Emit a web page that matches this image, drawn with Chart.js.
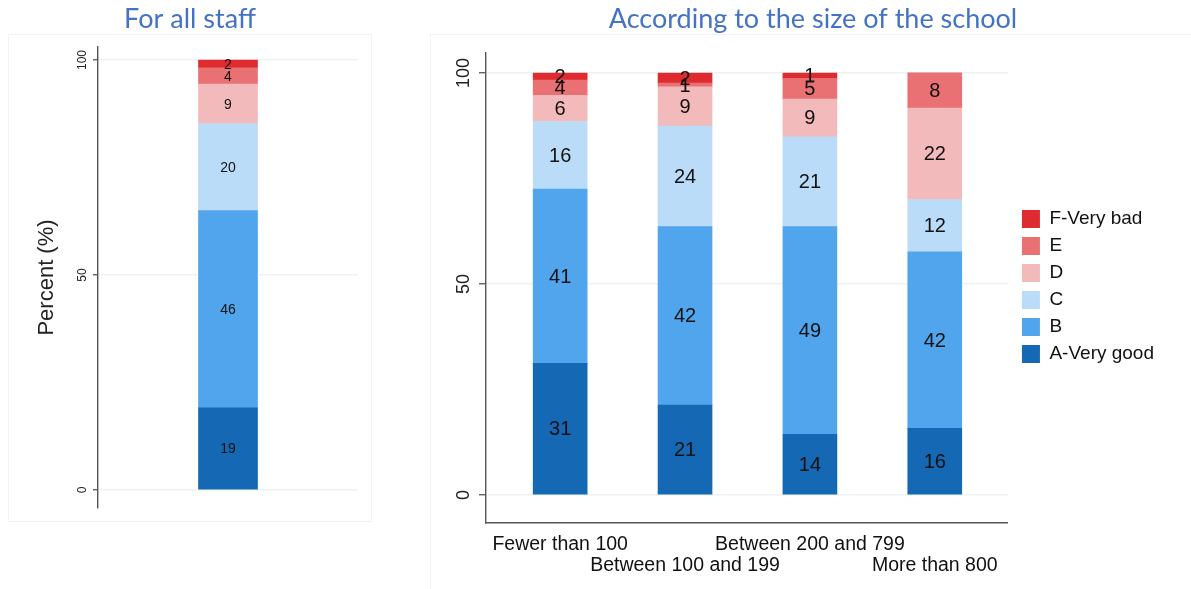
<!DOCTYPE html>
<html><head><meta charset="utf-8">
<script src="https://cdn.jsdelivr.net/npm/chart.js@4.4.1/dist/chart.umd.min.js"></script>
<style>
html,body{margin:0;padding:0;background:#fff;width:1191px;height:589px;overflow:hidden;position:relative;}
#left{position:absolute;left:0;top:0;width:380px;height:589px;}
#right{position:absolute;left:435px;top:0;width:756px;height:589px;}
.frame{position:absolute;border:1px solid #f1f3f4;box-sizing:border-box;}
</style></head><body>
<div class="frame" style="left:8px;top:34px;width:364px;height:488px"></div>
<div class="frame" style="left:430px;top:34px;width:770px;height:570px"></div>
<div id="left"><canvas id="c1"></canvas></div>
<div id="right"><canvas id="c2"></canvas></div>
<script>
// ---- data ----
const ratingLabels = ['A-Very good', 'B', 'C', 'D', 'E', 'F-Very bad'];
const ratingColors = ['#1468b4', '#50a5ec', '#bbdcf8', '#f3babb', '#e97173', '#de2b30'];
const sizeCategories = ['Fewer than 100', 'Between 100 and 199', 'Between 200 and 799', 'More than 800'];
const yTickValues = [0, 50, 100];

// For all staff (A..F)
const allStaffValues = [19.1, 45.9, 20.2, 9.2, 3.8, 1.8];

// According to size of school, one array per rating, across sizeCategories
const valuesA = [31.2, 21.3, 14.4, 15.8];
const valuesB = [41.3, 42.3, 49.2, 41.8];
const valuesC = [16.0, 23.8, 21.3, 12.4];
const valuesD = [6.2, 9.3, 8.9, 21.7];
const valuesE = [3.6, 0.9, 4.9, 8.3];
const valuesF = [1.7, 2.4, 1.3, 0];
const bySize = [valuesA, valuesB, valuesC, valuesD, valuesE, valuesF];

const FONT = "'Liberation Sans', Arial, sans-serif";
const TITLE_FONT = "Lato, 'Open Sans', sans-serif";
Chart.defaults.font.family = FONT;
Chart.defaults.color = '#111';
Chart.defaults.animation = false;

const segLabels = {
  id: 'segLabels',
  afterDatasetsDraw(chart, args, opts) {
    const ctx = chart.ctx;
    ctx.save();
    ctx.font = opts.size + 'px ' + FONT;
    ctx.fillStyle = '#111';
    ctx.textAlign = 'center';
    ctx.textBaseline = 'middle';
    chart.data.datasets.forEach((ds, i) => {
      const meta = chart.getDatasetMeta(i);
      meta.data.forEach((el, j) => {
        const raw = ds.data[j];
        const v = (raw !== null && typeof raw === 'object') ? raw.y : raw;
        if (!v) return;
        const p = el.getProps(['x', 'y', 'base'], true);
        ctx.fillText(String(Math.round(v)), p.x, (p.y + p.base) / 2 + 1);
      });
    });
    ctx.restore();
  }
};

// legend gap from plot region, and title centred over the whole canvas
const layoutTweaks = {
  id: 'layoutTweaks',
  afterLayout(chart, args, opts) {
    const lg = chart.legend;
    if (lg && opts.legendGap) { lg.left += opts.legendGap; lg.right += opts.legendGap; }
    const t = chart.titleBlock;
    if (t && opts.fullWidthTitle) { t.left = 0; t.right = chart.width; t.width = chart.width; }
  }
};

function yScale(min, max, fontSize, tickLen, width) {
  return {
    stacked: true,
    min: min, max: max,
    afterBuildTicks: s => { s.ticks = yTickValues.map(v => ({value: v})); },
    afterFit: s => { s.width = width; },
    ticks: {
      minRotation: 90, maxRotation: 90,
      crossAlign: 'center', padding: 0,
      font: {size: fontSize}, color: '#222'
    },
    grid: {color: '#edf3f5', lineWidth: 1.5, tickColor: '#555', tickLength: tickLen, tickWidth: 1.3},
    border: {display: true, color: '#555', width: 1.4}
  };
}

// ---- left chart ----
new Chart(document.getElementById('c1'), {
  type: 'bar',
  data: {
    labels: [''],
    datasets: ratingLabels.map((lab, i) => ({
      label: lab, data: [allStaffValues[i]], backgroundColor: ratingColors[i],
      borderWidth: 0, barThickness: 59
    }))
  },
  options: {
    responsive: true, maintainAspectRatio: false,
    layout: {padding: {left: 22, right: 22, top: 0, bottom: 81}},
    plugins: {
      legend: {display: false},
      tooltip: {enabled: false},
      title: {display: true, text: 'For all staff', color: '#4472c4',
        font: {family: TITLE_FONT, size: 27, weight: 'normal'}, padding: {top: 2.8, bottom: 11.8}},
      segLabels: {size: 14}
    },
    scales: {
      x: {stacked: true, display: false},
      y: Object.assign(yScale(-4.19, 103.02, 12, 5, 76), {
        title: {display: true, text: 'Percent (%)', font: {size: 22}, color: '#222', padding: {top: 12, bottom: 0}}
      })
    }
  },
  plugins: [segLabels]
});

// ---- right chart ----
new Chart(document.getElementById('c2'), {
  type: 'bar',
  data: {
    datasets: ratingLabels.map((lab, i) => ({
      label: lab,
      data: bySize[i].map((v, j) => ({x: j, y: v})),
      backgroundColor: ratingColors[i], borderWidth: 0, barThickness: 54
    }))
  },
  options: {
    responsive: true, maintainAspectRatio: false,
    layout: {padding: {left: 0, right: 33, top: 0, bottom: 16}},
    plugins: {
      legend: {
        display: true, position: 'right', reverse: true,
        labels: {boxWidth: 18, boxHeight: 18, padding: 8, font: {size: 19}, color: '#111'}
      },
      layoutTweaks: {legendGap: 6, fullWidthTitle: true},
      tooltip: {enabled: false},
      title: {display: true, text: 'According to the size of the school', color: '#4472c4',
        font: {family: TITLE_FONT, size: 27, weight: 'normal'}, padding: {top: 2.8, bottom: 17.8}},
      segLabels: {size: 20}
    },
    scales: {
      x: {
        type: 'linear', stacked: true, offset: false,
        min: -0.594, max: 3.586,
        afterBuildTicks: s => { s.ticks = sizeCategories.map((c, i) => ({value: i})); },
        afterFit: s => { s.height = 50; },
        ticks: {
          autoSkip: false, maxRotation: 0, minRotation: 0, padding: 12,
          font: {size: 19.5, lineHeight: 1.03}, color: '#111',
          callback: (v, i) => (i % 2 === 0 ? [sizeCategories[i], ''] : ['', sizeCategories[i]])
        },
        grid: {display: false, drawTicks: false, offset: false},
        border: {display: true, color: '#555', width: 1.4}
      },
      y: yScale(-6.64, 104.74, 18, 7, 51)
    }
  },
  plugins: [segLabels, layoutTweaks]
});
</script>
</body></html>
